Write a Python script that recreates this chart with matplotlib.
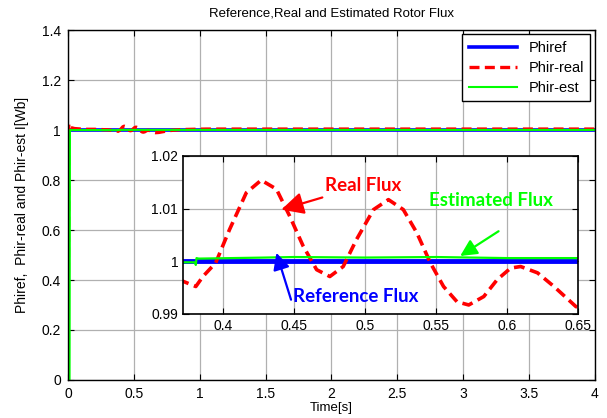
import matplotlib
matplotlib.use("Agg")
import matplotlib.pyplot as plt
import numpy as np

plt.rcParams['font.family'] = ['Liberation Sans', 'DejaVu Sans']

# time axis samples and flux values read at those instants
t_ref = [0.0, 4.0]
phi_ref = [1.0, 1.0]

t_real = [0.0, 0.004, 0.006, 0.012, 0.02, 0.05, 0.1, 0.15, 0.2, 0.25, 0.3,
          0.34, 0.36, 0.372, 0.381, 0.386, 0.395, 0.4047, 0.4165, 0.427,
          0.4377, 0.447, 0.4565, 0.466, 0.4753, 0.4847, 0.494, 0.506, 0.5165,
          0.527, 0.5365, 0.546, 0.5553, 0.5648, 0.573, 0.5836, 0.593, 0.6025,
          0.6095, 0.6214, 0.633, 0.6484, 0.665, 0.69, 0.72, 0.76, 0.8, 0.86,
          0.95, 1.05, 1.5, 2.0, 2.5, 3.0, 3.5, 4.0]
phi_real = [0.0, 0.6, 1.025, 1.018, 1.01, 1.006, 1.004, 1.003, 1.003, 1.002,
            1.001, 0.999, 0.997, 0.9962, 0.9952, 0.9971, 0.9997, 1.006, 1.013,
            1.0154, 1.0137, 1.0086, 1.0029, 0.9984, 0.9971, 0.999, 1.0041,
            1.0098, 1.0117, 1.0098, 1.0054, 0.9997, 0.9952, 0.9923, 0.9917,
            0.9933, 0.9965, 0.9987, 0.999, 0.9978, 0.9952, 0.9914, 0.9895,
            0.9905, 0.9935, 0.997, 0.9995, 1.002, 1.003, 1.004, 1.004, 1.004,
            1.004, 1.004, 1.004, 1.004]

t_est = [0.0, 0.012, 0.015, 0.1, 0.2, 0.3, 0.372, 0.3805, 0.381, 0.3815,
         0.383, 0.43, 0.45, 0.5, 0.55, 0.6, 0.65, 1.0, 2.0, 3.0, 4.0]
phi_est = [0.0, 0.0, 1.0, 1.0, 1.0, 0.9998, 0.9998, 0.9998, 0.9993, 1.0006,
           1.0005, 1.0007, 1.0008, 1.0007, 1.0008, 1.0006, 1.0006, 1.0007,
           1.0007, 1.0006, 1.0006]

fig = plt.figure(figsize=(6.07, 4.18), dpi=100)
ax = fig.add_axes([0.112, 0.091, 0.868, 0.837])

ax.plot(t_ref, phi_ref, color='#0000ff', lw=2.6, label='Phiref')
ax.plot(t_real, phi_real, color='#ff0000', lw=2.4, ls=(0, (3, 1.6)), label='Phir-real')
ax.plot(t_est, phi_est, color='#00ff00', lw=1.5, label='Phir-est')

ax.set_xlim(0, 4)
ax.set_ylim(0, 1.4)
ax.set_xticks(np.arange(0, 4.01, 0.5))
ax.set_xticklabels(['0', '0.5', '1', '1.5', '2', '2.5', '3', '3.5', '4'])
ax.set_yticks(np.arange(0, 1.41, 0.2))
ax.set_yticklabels(['0', '0.2', '0.4', '0.6', '0.8', '1', '1.2', '1.4'])
ax.grid(True, color='#b0b0b0', lw=0.9)
ax.tick_params(direction='in', top=True, right=True, labelsize=10, length=4, pad=5)
for s in ax.spines.values():
    s.set_linewidth(1.0)

ax.set_title('Reference,Real and Estimated Rotor Flux', fontsize=9.5, pad=10)
ax.set_xlabel('Time[s]', fontsize=9.5, labelpad=1)
ax.set_ylabel('Phiref,  Phir-real and Phir-est I[Wb]', fontsize=10, labelpad=9)

leg = ax.legend(loc='upper right', fontsize=10.5, fancybox=False, framealpha=1,
                edgecolor='black', handlelength=3.3, borderaxespad=0.3,
                labelspacing=0.4, borderpad=0.45)
leg.get_frame().set_linewidth(1.0)

# zoomed view of the transient
ins = fig.add_axes([0.3015, 0.249, 0.651, 0.378])
ins.plot(t_ref, phi_ref, color='#0000ff', lw=3.5)
ins.plot(t_real, phi_real, color='#ff0000', lw=2.6, ls=(0, (3, 1.6)))
ins.plot(t_est, phi_est, color='#00ff00', lw=1.6)
ins.set_xlim(0.372, 0.65)
ins.set_ylim(0.99, 1.02)
ins.set_xticks([0.4, 0.45, 0.5, 0.55, 0.6, 0.65])
ins.set_xticklabels(['0.4', '0.45', '0.5', '0.55', '0.6', '0.65'])
ins.set_yticks([0.99, 1.0, 1.01, 1.02])
ins.set_yticklabels(['0.99', '1', '1.01', '1.02'])
ins.grid(True, color='#b0b0b0', lw=0.9)
ins.tick_params(direction='in', top=True, right=True, labelsize=10, length=4)
for s in ins.spines.values():
    s.set_linewidth(1.2)

ann_font = dict(family=['Lato', 'DejaVu Sans'], fontweight='bold', fontsize=13.5)
arrow_style = '-|>,head_length=1.0,head_width=0.5'
ins.annotate('Real Flux', xy=(0.4412, 1.0098), xytext=(0.4718, 1.0144),
             color='#ff0000', va='center', ha='left', **ann_font,
             arrowprops=dict(arrowstyle=arrow_style,
                             color='#ff0000', lw=1.6, shrinkA=2, shrinkB=0))
ins.annotate('Estimated Flux', xy=(0.567, 1.001), xytext=(0.5448, 1.0116),
             color='#00ff00', va='center', ha='left', **ann_font)
ins.annotate('', xy=(0.567, 1.001), xytext=(0.594, 1.0057),
             arrowprops=dict(arrowstyle=arrow_style,
                             color='#00ff00', lw=1.6, shrinkA=0, shrinkB=0))
ins.annotate('Reference Flux', xy=(0.4377, 1.0016), xytext=(0.4494, 0.9933),
             color='#0000ff', va='center', ha='left', **ann_font)
ins.annotate('', xy=(0.4377, 1.0016), xytext=(0.448, 0.9927),
             arrowprops=dict(arrowstyle=arrow_style,
                             color='#0000ff', lw=1.6, shrinkA=0, shrinkB=0))

fig.savefig('out.png', dpi=100)
